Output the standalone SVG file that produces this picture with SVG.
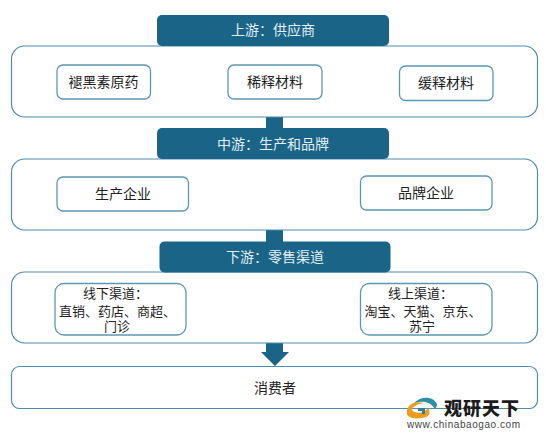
<svg xmlns="http://www.w3.org/2000/svg" width="546" height="434" viewBox="0 0 546 434">
<style>
.outer{fill:#fff;stroke:#4d8cab;stroke-width:1.2}
.inner{fill:#fff;stroke:#5b97b5;stroke-width:1.3}
.head{fill:#1a6488}
.t{font-family:"Noto Sans CJK SC","Liberation Serif",sans-serif;font-size:14px;fill:#222;text-anchor:middle}
.s{font-size:13px}
.h{fill:#e4eef3}
</style>
<rect width="546" height="434" fill="#fff"/>
<g id="connectors">
<rect class="head" x="266" y="116" width="17" height="13"/>
<rect class="head" x="266" y="230" width="17" height="12"/>
<path class="head" d="M266 343H283V352H289L275 366L261 352H266Z"/>
</g>
<g id="upstream-panel"><rect class="outer" x="11.5" y="46" width="526" height="71" rx="13"/></g>
<g id="upstream-head"><rect class="head" x="157" y="15" width="232" height="31" rx="5"/><text class="t h" x="273" y="35">上游：供应商</text></g>
<g id="n1"><rect class="inner" x="57" y="65" width="93.500" height="34" rx="6"/><text class="t" x="103.500" y="87">褪黑素原药</text></g>
<g id="n2"><rect class="inner" x="228" y="65" width="94" height="34" rx="6"/><text class="t" x="275" y="87">稀释材料</text></g>
<g id="n3"><rect class="inner" x="399.500" y="66" width="93.500" height="34.500" rx="6"/><text class="t" x="446" y="88">缓释材料</text></g>
<g id="midstream-panel"><rect class="outer" x="11.5" y="159" width="526" height="71" rx="13"/></g>
<g id="midstream-head"><rect class="head" x="157" y="128" width="232" height="31" rx="5"/><text class="t h" x="273" y="149">中游：生产和品牌</text></g>
<g id="n4"><rect class="inner" x="57" y="177" width="131.500" height="34" rx="6"/><text class="t" x="123" y="199">生产企业</text></g>
<g id="n5"><rect class="inner" x="360.500" y="176" width="131.500" height="34" rx="6"/><text class="t" x="426" y="198">品牌企业</text></g>
<g id="downstream-panel"><rect class="outer" x="11.5" y="272" width="526" height="71" rx="13"/></g>
<g id="downstream-head"><rect class="head" x="159.500" y="241.500" width="231" height="31" rx="5"/><text class="t h" x="275" y="262">下游：零售渠道</text></g>
<g id="n6"><rect class="inner" x="55" y="283.500" width="131" height="51.500" rx="9"/><text class="t s" y="298"><tspan x="115.500">线下渠道：</tspan><tspan x="117.500" dy="18">直销、药店、商超、</tspan><tspan x="117" dy="15">门诊</tspan></text></g>
<g id="n7"><rect class="inner" x="360.500" y="283.500" width="131.500" height="51.500" rx="9"/><text class="t s" y="298"><tspan x="420.500">线上渠道：</tspan><tspan x="423" dy="18">淘宝、天猫、京东、</tspan><tspan x="422" dy="15">苏宁</tspan></text></g>
<g id="consumer"><rect class="outer" x="11.5" y="366.500" width="526" height="42" rx="8"/><text class="t" x="275" y="393">消费者</text></g>
<g id="logo">
<path d="M407 410C409 403 416 401 424 403C417 404 412 407 412 410C414 414 424 414 428 408C430 411 430 414 428 416C423 419 411 420 407 415Z" fill="#f09a1e"/>
<path d="M414 403C421 396 433 396 437 404C437 406 436 408 435 409C431 402 423 400 414 403Z" fill="#2c8fa6"/>
<path d="M418 408H425V414H422V411H418Z" fill="#2f7f98"/>
<text x="444" y="415" font-family="'Noto Sans CJK SC',sans-serif" font-size="18" font-weight="900" fill="#1c1c1c" textLength="75">观研天下</text>
<text x="407" y="428" font-family="'Liberation Sans',sans-serif" font-size="10" fill="#444" textLength="113">www.chinabaogao.com</text>
</g>
</svg>
